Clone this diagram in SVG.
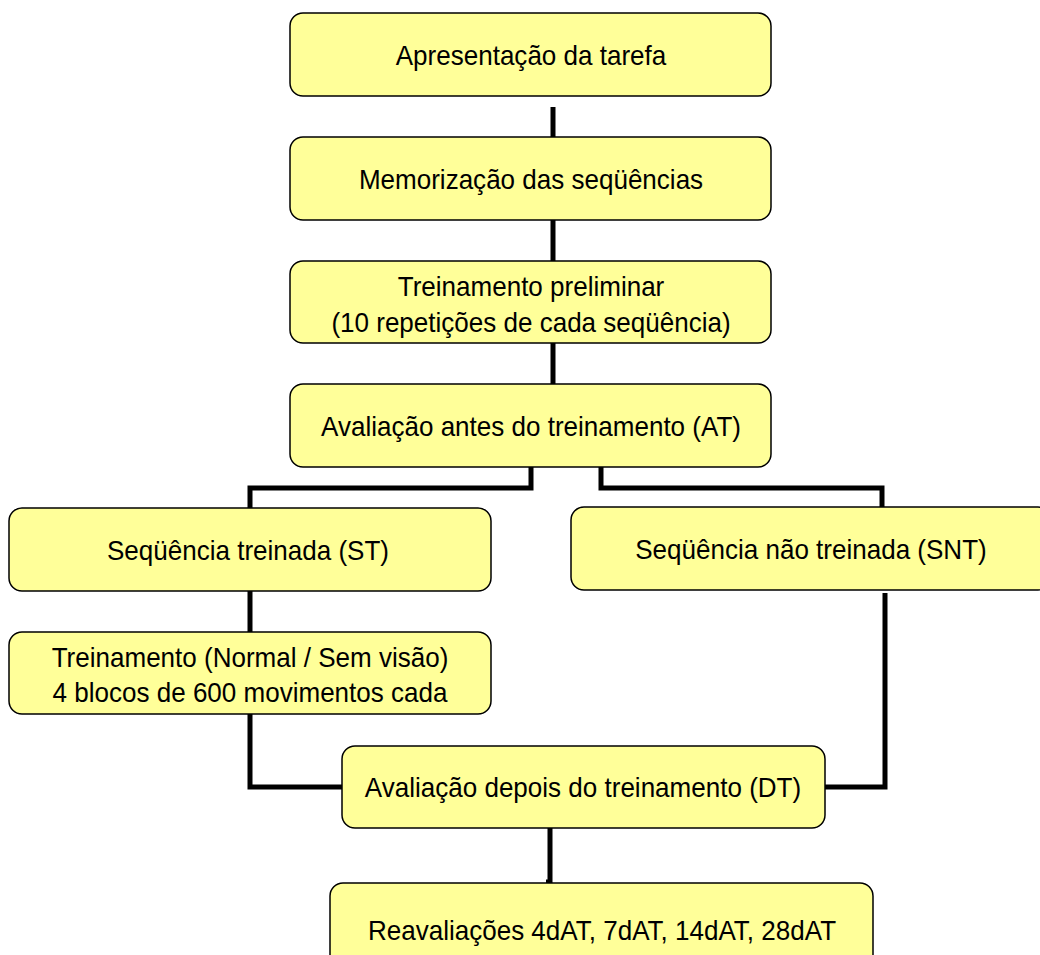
<svg xmlns="http://www.w3.org/2000/svg" width="1040" height="955" viewBox="0 0 1040 955">
<style>
.box{fill:#FFFF99;stroke:#000;stroke-width:1.5}
.t{font-family:"Liberation Sans",Arial,sans-serif;font-size:28px;fill:#000;text-anchor:middle}
.c{fill:none;stroke:#000;stroke-width:5}
</style>
<rect width="1040" height="955" fill="#fff"/>
<g id="connectors">
<path class="c" d="M553 107V138"/>
<path class="c" d="M553 220V261"/>
<path class="c" d="M553 343V384"/>
<path class="c" d="M531 467V488H250V508"/>
<path class="c" d="M601 467V488H882V507"/>
<path class="c" d="M250 591V632"/>
<path class="c" d="M250 714V787H342"/>
<path class="c" d="M885 593V787H825"/>
<path class="c" d="M550 828V882H546"/>
</g>
<g id="n1"><rect class="box" x="290" y="13" width="481" height="83" rx="13"/><text class="t" transform="matrix(0.93 0 0 1 531 65)">Apresentação da tarefa</text></g>
<g id="n2"><rect class="box" x="290" y="137" width="481" height="83" rx="13"/><text class="t" transform="matrix(0.93 0 0 1 531 189)">Memorização das seqüências</text></g>
<g id="n3"><rect class="box" x="290" y="261" width="481" height="82" rx="13"/><text class="t" transform="matrix(0.93 0 0 1 531 296)">Treinamento preliminar</text><text class="t" transform="matrix(0.93 0 0 1 531 332)">(10 repetições de cada seqüência)</text></g>
<g id="n4"><rect class="box" x="290" y="384" width="481" height="83" rx="13"/><text class="t" transform="matrix(0.93 0 0 1 531 436)">Avaliação antes do treinamento (AT)</text></g>
<g id="n5"><rect class="box" x="9" y="508" width="482" height="83" rx="13"/><text class="t" transform="matrix(0.93 0 0 1 248 560)">Seqüência treinada (ST)</text></g>
<g id="n6"><rect class="box" x="571" y="507" width="480" height="83" rx="13"/><text class="t" transform="matrix(0.93 0 0 1 811 559)">Seqüência não treinada (SNT)</text></g>
<g id="n7"><rect class="box" x="9" y="632" width="482" height="82" rx="13"/><text class="t" transform="matrix(0.93 0 0 1 250 667)">Treinamento (Normal / Sem visão)</text><text class="t" transform="matrix(0.93 0 0 1 250 702)">4 blocos de 600 movimentos cada</text></g>
<g id="n8"><rect class="box" x="342" y="746" width="483" height="82" rx="13"/><text class="t" transform="matrix(0.93 0 0 1 583 797)">Avaliação depois do treinamento (DT)</text></g>
<g id="n9"><rect class="box" x="330" y="883" width="543" height="85" rx="13"/><text class="t" transform="matrix(0.93 0 0 1 602 940)">Reavaliações 4dAT, 7dAT, 14dAT, 28dAT</text></g>
</svg>
